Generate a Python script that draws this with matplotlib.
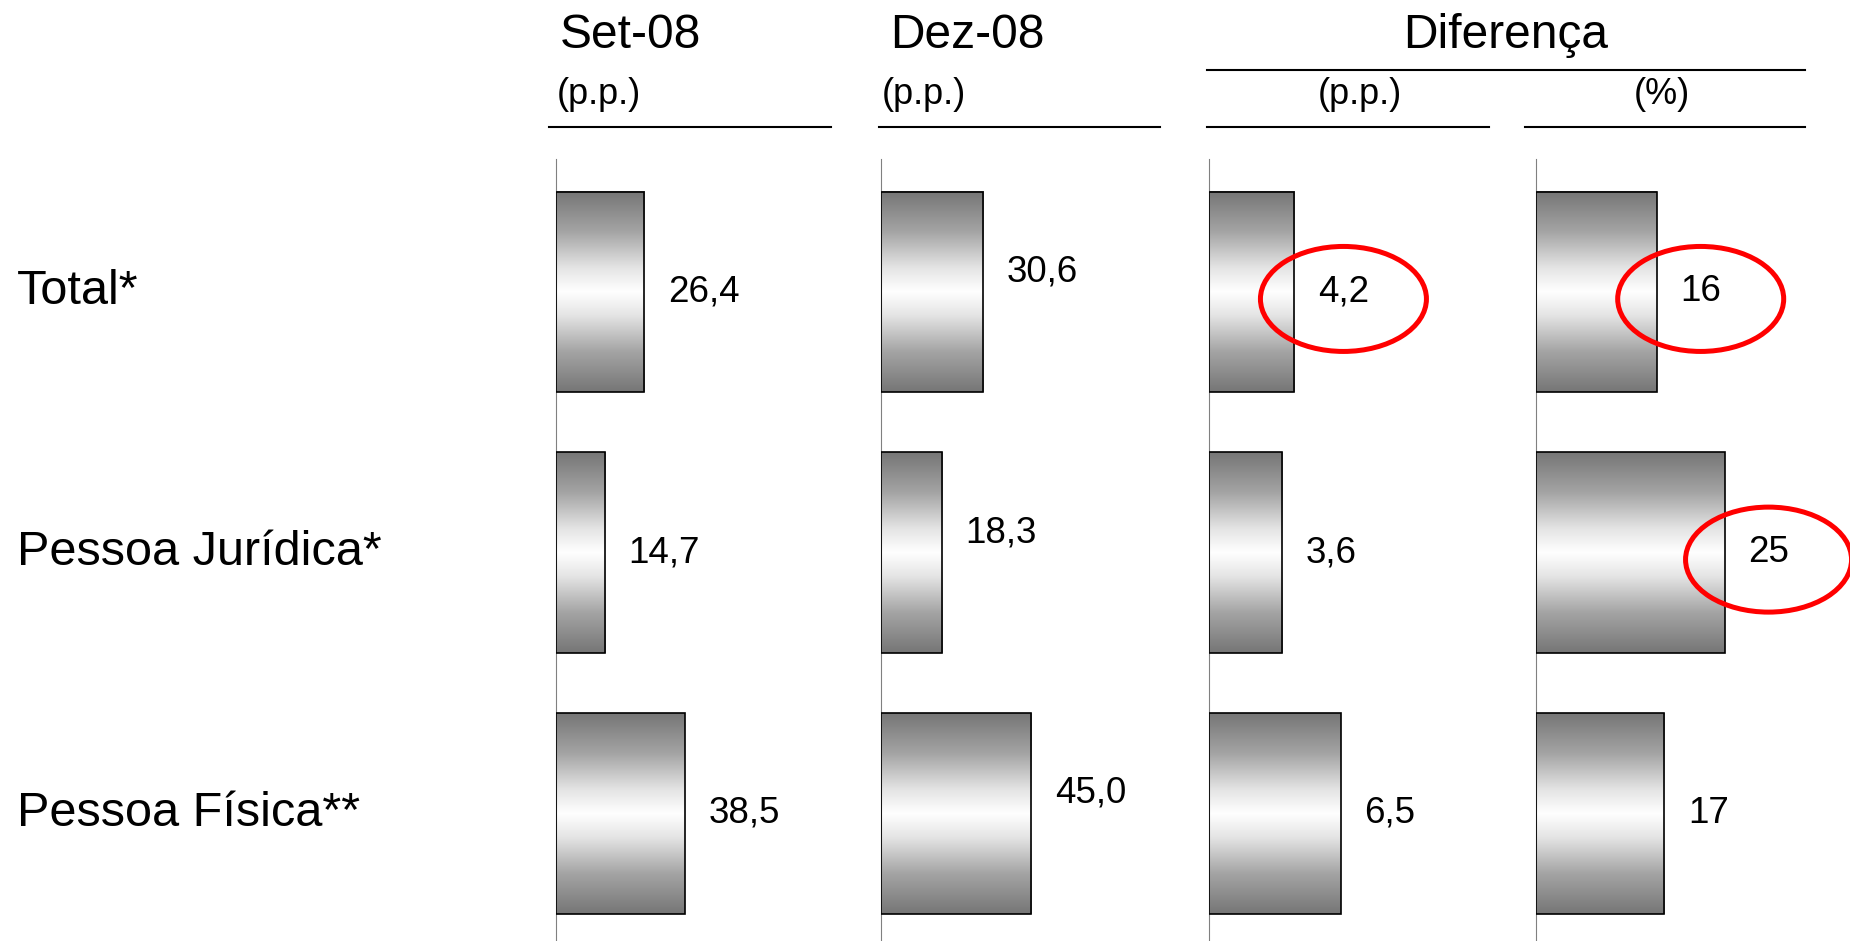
import numpy as np
import matplotlib
matplotlib.use('Agg')
import matplotlib.pyplot as plt
from matplotlib.colors import LinearSegmentedColormap
from matplotlib.lines import Line2D
from matplotlib.patches import Ellipse
from matplotlib.transforms import IdentityTransform, blended_transform_factory

plt.rcParams['font.family'] = ['Liberation Sans', 'DejaVu Sans']

# Data #
categories = ['Total*', 'Pessoa Jurídica*', 'Pessoa Física**']
set08 = [26.4, 14.7, 38.5]
dez08 = [30.6, 18.3, 45.0]
diff_pp = [4.2, 3.6, 6.5]
diff_pct = [16, 25, 17]
decimals = [1, 1, 1, 0]
highlights = [(2, 0), (3, 0), (3, 1)]   # (panel, row) circled in red

# Layout (pixels) #
W, H = 1850, 941
axes_top = 159
axes_width = 280
# left edge, pixels per unit, label lift
panel_layout = [(556, 3.34, 0), (881, 3.34, 20), (1209, 20.3, 0), (1536, 7.54, 0)]

shade = LinearSegmentedColormap.from_list('shade', [
    (0.0, '#767676'), (0.2, '#a4a4a4'), (0.38, '#e4e4e4'), (0.5, '#ffffff'),
    (0.62, '#e4e4e4'), (0.8, '#a4a4a4'), (1.0, '#767676')])
gradient = np.linspace(0, 1, 256).reshape(-1, 1)


def fx(x):
    return x / W


def fy(y):
    return 1 - y / H


fig = plt.figure(figsize=(W / 100, H / 100), dpi=100)
fig.patch.set_facecolor('white')

rows = np.arange(len(categories))
series = [set08, dez08, diff_pp, diff_pct]
value_labels = {}
axes = []

for p, (values, (left, scale, lift)) in enumerate(zip(series, panel_layout)):
    ax = fig.add_axes([fx(left), 0, axes_width / W, (H - axes_top) / H])
    bars = ax.barh(rows, values, height=0.77, color='none', edgecolor='black',
                   linewidth=1.2, zorder=3)
    for rect in bars:
        x0, y0 = rect.get_x(), rect.get_y()
        ax.imshow(gradient, extent=[x0, x0 + rect.get_width(), y0, y0 + rect.get_height()],
                  aspect='auto', cmap=shade, zorder=2, interpolation='bilinear')
    ax.set_xlim(0, axes_width / scale)
    ax.set_ylim(2.49, -0.51)
    for side in ['top', 'right', 'bottom']:
        ax.spines[side].set_visible(False)
    ax.spines['left'].set_color('#808080')
    ax.spines['left'].set_linewidth(0.8)
    ax.set_xticks([])
    ax.set_yticks([])
    ax.patch.set_alpha(0)

    for i, v in enumerate(values):
        txt = f'{v:.{decimals[p]}f}'.replace('.', ',')
        value_labels[(p, i)] = ax.annotate(txt, xy=(v, i), xytext=(17, lift * 0.72),
                                           textcoords='offset points', va='center',
                                           ha='left', fontsize=26.5)
    axes.append(ax)

# Row labels
row_trans = blended_transform_factory(fig.transFigure, axes[0].transData)
for i, name in enumerate(categories):
    axes[0].annotate(name, xy=(fx(17), i), xycoords=row_trans, xytext=(0, -9),
                     textcoords='offset points', va='baseline', ha='left',
                     fontsize=35, annotation_clip=False)

# Column headers
fig.text(fx(560), fy(48), 'Set-08', fontsize=34.5, va='baseline')
fig.text(fx(890), fy(48), 'Dez-08', fontsize=34.5, va='baseline')
fig.text(fx(1506), fy(48), 'Diferença', fontsize=34.5, va='baseline', ha='center')
fig.text(fx(557), fy(104), '(p.p.)', fontsize=26, va='baseline')
fig.text(fx(882), fy(104), '(p.p.)', fontsize=26, va='baseline')
fig.text(fx(1360), fy(104), '(p.p.)', fontsize=26, va='baseline', ha='center')
fig.text(fx(1662), fy(104), '(%)', fontsize=26, va='baseline', ha='center')

rules = [(549, 831, 127), (879, 1160, 127), (1207, 1489, 127), (1525, 1805, 127),
         (1207, 1805, 70)]
for x0, x1, y in rules:
    fig.add_artist(Line2D([fx(x0), fx(x1)], [fy(y), fy(y)], color='black', linewidth=1.5))

# Red ellipses around highlighted values
fig.canvas.draw()
renderer = fig.canvas.get_renderer()
for key in highlights:
    bb = value_labels[key].get_window_extent(renderer)
    cx = (bb.x0 + bb.x1) / 2
    cy = (bb.y0 + bb.y1) / 2 - 7
    fig.add_artist(Ellipse((cx, cy), 166, 105, transform=IdentityTransform(),
                           fill=False, edgecolor='red', linewidth=3.6, zorder=10))

plt.savefig('out.png', dpi=100)
